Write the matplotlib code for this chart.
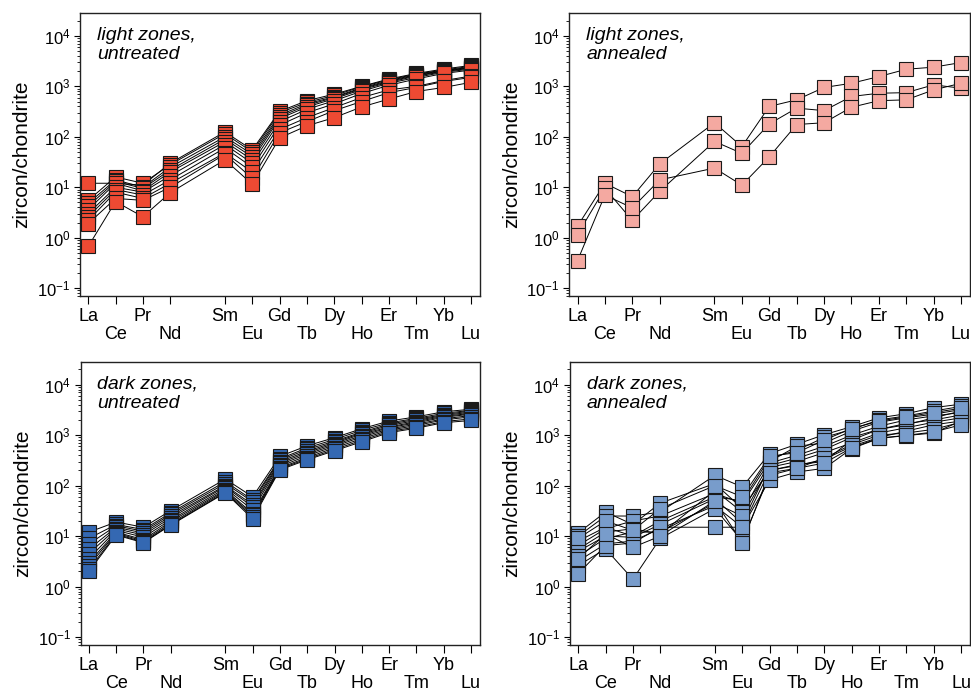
import matplotlib
matplotlib.use('Agg')
import matplotlib.pyplot as plt
from matplotlib.ticker import LogLocator, NullFormatter

plt.rcParams['font.family'] = ['Liberation Sans', 'DejaVu Sans']
plt.rcParams['mathtext.fontset'] = 'custom'
plt.rcParams['mathtext.rm'] = 'Liberation Sans'
plt.rcParams['mathtext.default'] = 'regular'

# REE, atomic numbers (Pm left out)
elements = ['La', 'Ce', 'Pr', 'Nd', 'Sm', 'Eu', 'Gd', 'Tb', 'Dy', 'Ho', 'Er', 'Tm', 'Yb', 'Lu']
atomic_no = [57, 58, 59, 60, 62, 63, 64, 65, 66, 67, 68, 69, 70, 71]

# zircon/chondrite, one row per spot
light_untreated = [
    [12, 12, 11, 30, 125, 55, 320, 520, 700, 1000, 1400, 1800, 2200, 2600],
    [5.5, 16, 12, 28, 115, 50, 300, 480, 660, 980, 1350, 1750, 2100, 2500],
    [4.8, 14, 10, 25, 100, 45, 270, 450, 620, 930, 1300, 1700, 2050, 2400],
    [4.2, 13, 9.5, 22, 90, 40, 250, 420, 600, 900, 1250, 1650, 2000, 2350],
    [3.6, 12, 8.5, 20, 80, 35, 230, 390, 570, 860, 1200, 1600, 1950, 2300],
    [3.0, 10, 8, 17, 70, 30, 200, 350, 520, 800, 1150, 1500, 1900, 2200],
    [2.6, 9, 7, 14, 60, 25, 170, 300, 450, 720, 1050, 1400, 1800, 2100],
    [2.2, 8, 6, 12, 48, 20, 140, 240, 380, 600, 850, 1000, 1300, 1600],
    [1.9, 6, 5.5, 10, 45, 15, 120, 200, 330, 500, 750, 950, 1250, 1500],
    [0.67, 5.2, 2.6, 7.8, 35, 11.5, 95, 165, 240, 390, 560, 790, 950, 1200],
]
light_annealed = [
    [1.7, 12, 6.5, 29, 190, 64, 400, 540, 950, 1150, 1560, 2180, 2400, 2960],
    [1.15, 9.5, 2.2, 8.3, 81, 47, 180, 370, 330, 630, 730, 750, 1070, 920],
    [0.35, 7, 3.9, 14, 24, 11, 40, 175, 190, 385, 520, 540, 850, 1150],
]
dark_untreated = [
    [12, 19, 15, 32, 135, 60, 380, 615, 890, 1340, 1900, 2300, 2900, 3250],
    [9, 17, 13.5, 29, 120, 52, 340, 560, 820, 1250, 1750, 2150, 2700, 3100],
    [7, 16, 12.5, 27, 110, 48, 320, 520, 760, 1150, 1650, 2050, 2550, 3000],
    [5.5, 15, 11.5, 25, 100, 42, 300, 480, 720, 1100, 1550, 1950, 2450, 2850],
    [4.5, 14, 10.5, 23, 95, 38, 280, 450, 680, 1050, 1450, 1850, 2350, 2700],
    [3.6, 13, 9.5, 21, 88, 33, 260, 420, 640, 980, 1400, 1750, 2250, 2600],
    [3.0, 12, 8.5, 19.5, 82, 28, 240, 390, 600, 920, 1320, 1650, 2100, 2450],
    [2.6, 11.5, 8, 18, 78, 26, 225, 360, 560, 850, 1250, 1550, 2000, 2300],
    [2.2, 11, 7.6, 17, 74, 24, 215, 340, 520, 790, 1180, 1450, 1850, 2100],
    [2.0, 10.5, 7.4, 16.5, 72, 22, 205, 325, 490, 740, 1120, 1370, 1760, 1950],
]
dark_annealed = [
    [11.5, 30, 17, 45, 110, 35, 200, 260, 300, 800, 1300, 1600, 2200, 3000],
    [10, 25, 25, 30, 160, 94, 430, 660, 1020, 1470, 2200, 2650, 3500, 4100],
    [8, 15, 10, 20, 60, 50, 350, 500, 900, 1300, 2000, 2400, 3000, 3700],
    [6.5, 14, 20, 25, 70, 45, 300, 600, 700, 1200, 1800, 2200, 2600, 3200],
    [5.5, 12, 14, 11, 80, 30, 280, 400, 600, 1000, 1500, 2000, 2400, 2800],
    [5, 10, 9.5, 17, 55, 18, 250, 350, 520, 900, 1300, 1700, 2000, 2500],
    [4, 9, 12, 12, 45, 25, 230, 300, 450, 700, 1100, 1400, 1800, 2200],
    [3.2, 7, 8, 14, 40, 15, 200, 250, 330, 600, 900, 1200, 1600, 1900],
    [2.6, 5.6, 1.4, 9, 35, 8, 160, 220, 350, 650, 1000, 1100, 1300, 1800],
    [1.8, 6.5, 7.3, 15, 15, 15, 130, 186, 220, 540, 860, 980, 1100, 1900],
    [9, 20, 13, 35, 100, 60, 380, 450, 800, 1350, 1900, 2300, 2800, 3400],
    [3.6, 11, 6, 10, 50, 7.4, 180, 220, 280, 560, 870, 990, 1150, 1600],
]

panels = [
    (light_untreated, '#EE4A33', 'light zones,\nuntreated', [0.0824, 0.5723, 0.4119, 0.4090]),
    (light_annealed, '#F4A9A1', 'light zones,\nannealed', [0.5863, 0.5723, 0.4127, 0.4090]),
    (dark_untreated, '#3468B2', 'dark zones,\nuntreated', [0.0831, 0.0680, 0.4112, 0.4094]),
    (dark_annealed, '#789CCB', 'dark zones,\nannealed', [0.5870, 0.0680, 0.4120, 0.4094]),
]

fig = plt.figure(figsize=(9.71, 6.92), dpi=100)

for data, color, label, pos in panels:
    ax = fig.add_axes(pos)
    for row in data:  # lines underneath, boxes on top
        ax.plot(atomic_no, row, color='black', lw=0.7, zorder=2)
    for row in data:
        ax.plot(atomic_no, row, ls='none', marker='s', ms=9.5, mfc=color,
                mec='#1a1a1a', mew=0.8, zorder=3)

    ax.set_yscale('log')
    ax.set_ylim(0.07, 28500)
    ax.set_xlim(56.7, 71.33)
    ax.set_yticks([0.1, 1, 10, 100, 1000, 10000])
    ax.set_yticklabels(['$10^{-1}$', '$10^{0}$', '$10^{1}$', '$10^{2}$', '$10^{3}$', '$10^{4}$'])
    ax.yaxis.set_minor_locator(LogLocator(base=10, subs=range(2, 10), numticks=20))
    ax.yaxis.set_minor_formatter(NullFormatter())

    # element names in two staggered rows
    ax.set_xticks(atomic_no[0::2])
    ax.set_xticklabels(elements[0::2])
    ax.set_xticks(atomic_no[1::2], minor=True)
    ax.set_xticklabels(elements[1::2], minor=True)
    ax.tick_params(axis='x', which='major', length=6, width=0.8, pad=3, labelsize=13)
    ax.tick_params(axis='x', which='minor', length=6, width=0.8, pad=15.8, labelsize=13)
    ax.tick_params(axis='y', which='major', length=4, width=0.8, pad=3, labelsize=12)
    ax.tick_params(axis='y', which='minor', length=2.5, width=0.6)

    for sp in ax.spines.values():
        sp.set_linewidth(1.0)
        sp.set_color('#222222')

    ax.set_ylabel('zircon/chondrite', fontsize=15, labelpad=4)
    ax.text(0.042, 0.952, label, transform=ax.transAxes, ha='left', va='top',
            fontsize=14, style='italic', linespacing=1.2)

fig.savefig('out.png', dpi=100)
